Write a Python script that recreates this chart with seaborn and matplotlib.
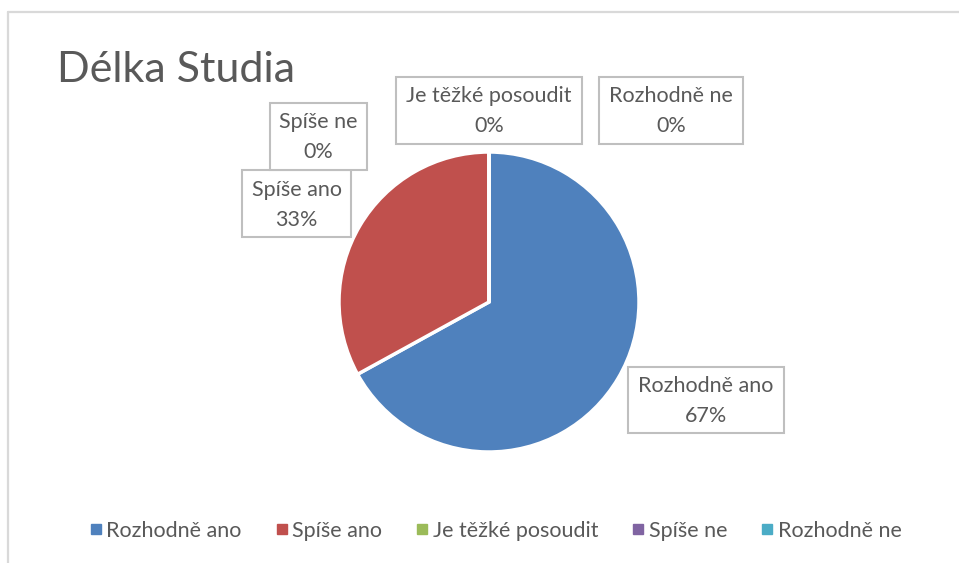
import matplotlib
matplotlib.use("Agg")
import matplotlib.pyplot as plt
from matplotlib.patches import Rectangle
from matplotlib.lines import Line2D
import seaborn as sns

# ---- data ----
categories = ["Rozhodně ano", "Spíše ano", "Je těžké posoudit", "Spíše ne", "Rozhodně ne"]
percent = [67, 33, 0, 0, 0]
title = "Délka Studia"
colors = ["#4F81BD", "#C0504D", "#9BBB59", "#8064A2", "#4BACC6"]

# label box layout in pixels (left, top, right, bottom)
label_boxes = [
    (628, 367, 784, 433),
    (242, 170, 351, 237),
    (396, 77, 582, 144),
    (270, 103, 367, 170),
    (599, 77, 743, 144),
]

sns.set_theme(style="white")
FONT = ["Lato", "DejaVu Sans"]
plt.rcParams["font.family"] = FONT
TXT = "#595959"

W, H = 959, 563
fig = plt.figure(figsize=(W / 100, H / 100), dpi=100)
fig.patch.set_facecolor("white")
ax = fig.add_axes([0, 0, 1, 1])

cx, cy, r = 489, H - 302, 150
wedges, _ = ax.pie(percent, colors=sns.color_palette(colors), startangle=90,
                   counterclock=False, center=(cx, cy), radius=r,
                   wedgeprops=dict(edgecolor="white", linewidth=2.5))
ax.set_xlim(0, W)
ax.set_ylim(0, H)
ax.set_aspect("equal")
ax.axis("off")

# data label boxes
for cat, p, (x0, y0, x1, y1) in zip(categories, percent, label_boxes):
    ax.add_patch(Rectangle((x0, H - y1), x1 - x0, y1 - y0, fill=True,
                           facecolor="white", edgecolor="#BFBFBF", linewidth=1.5, zorder=5))
    xm = (x0 + x1) / 2
    ym = H - (y0 + y1) / 2
    ax.text(xm, ym + 14, cat, ha="center", va="center", fontsize=15.5, color=TXT, zorder=6)
    ax.text(xm, ym - 16, f"{p}%", ha="center", va="center", fontsize=15.5, color=TXT, zorder=6)

# title
fig.text(57 / W, 1 - 82 / H, title, fontsize=31, color=TXT, ha="left", va="baseline")

# chart frame (top and left edges visible)
fig.add_artist(Line2D([8 / W, 1], [1 - 12 / H, 1 - 12 / H], color="#D9D9D9", linewidth=1.6,
                      transform=fig.transFigure))
fig.add_artist(Line2D([8 / W, 8 / W], [0, 1 - 12 / H], color="#D9D9D9", linewidth=1.6,
                      transform=fig.transFigure))

# legend
handles = [Line2D([], [], marker="s", linestyle="none", markersize=7, markerfacecolor=c,
                  markeredgecolor=c) for c in colors]
fig.legend(handles, categories, loc="center", bbox_to_anchor=(494 / W, 1 - 531 / H),
           ncol=5, frameon=False, fontsize=15.5, handletextpad=0.05, columnspacing=1.4,
           labelcolor=TXT, handlelength=0.9)

fig.savefig("out.png", dpi=100)
